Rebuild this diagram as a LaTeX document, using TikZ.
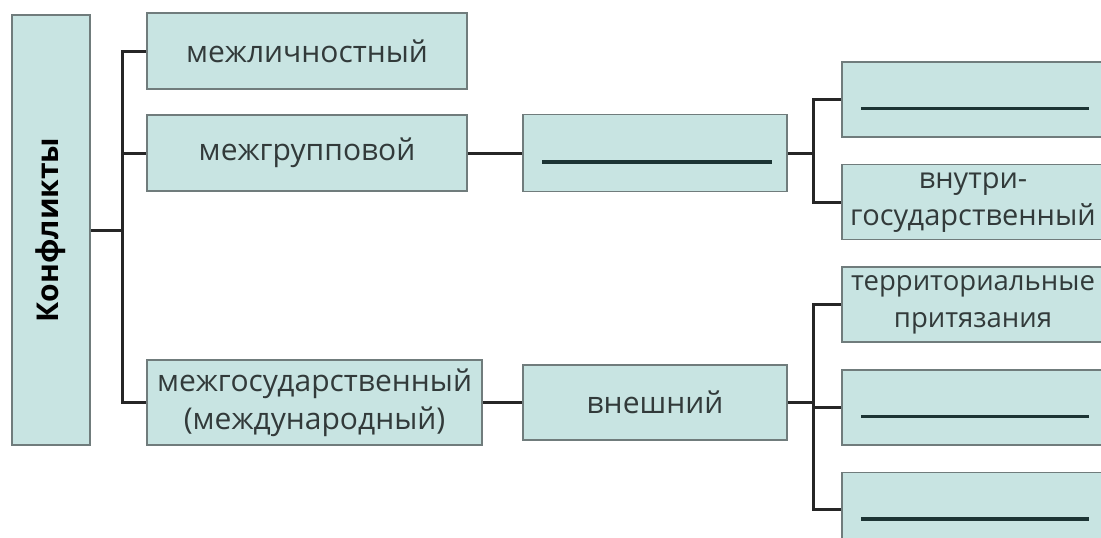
\documentclass[tikz,border=0pt]{standalone}
\usepackage{fontspec}
\setmainfont{Open Sans}
\usetikzlibrary{positioning}
\definecolor{boxfill}{RGB}{200,228,226}
\definecolor{boxline}{RGB}{112,124,124}
\definecolor{ink}{RGB}{50,58,58}
\definecolor{ansink}{RGB}{28,52,52}

\begin{document}
\begin{tikzpicture}[x=1pt,y=-1pt,
  box/.style={draw=boxline,line width=1.6pt,fill=boxfill,text=ink,align=center,inner sep=0pt,
    font=\fontsize{30}{38}\selectfont,minimum width=264pt,minimum height=75pt},
  answer/.style={box,path picture={\draw[ansink,line width=3.5pt]
    ([shift={(19,9)}]path picture bounding box.west) -- ([shift={(-15,9)}]path picture bounding box.east);}},
  link/.style={line width=3pt,draw=black!85}]
\useasboundingbox (0,0) rectangle (1101,538);
\clip (0,0) rectangle (1101,538);
\node[box,minimum width=78pt,minimum height=430pt] (konf) at (51,230) {\rotatebox{90}{\bfseries\color{black}Конфликты}};
\node[box,minimum width=320pt,minimum height=76pt] (lich) at (307,51) {межличностный};
\node[box,minimum width=320pt,minimum height=76pt] (grup) at (307,153) {межгрупповой};
\node[box,minimum width=335pt,minimum height=85pt] (gos) at (314.5,402.5) {межгосударственный\\(международный)};
\node[answer,minimum height=77pt] (b1) at (655,153) {};
\node[box] (vnesh) at (655,402.5) {внешний};
\node[answer,minimum width=262pt] (r1) at (973,99.5) {};
\node[box,minimum width=262pt,below=26pt of r1,font=\fontsize{29}{37}\selectfont] (r2) {внутри-\\государственный};
\node[box,minimum width=262pt,below=26pt of r2,font=\fontsize{27.5}{37}\selectfont] (r3) {территориальные\\притязания};
\node[answer,minimum width=262pt,below=26pt of r3] (r4) {};
\node[answer,minimum width=262pt,below=26pt of r4] (r5) {};
\coordinate (tl) at (122,0);
\coordinate (tr) at (813,0);
\draw[link] (konf.east) -- (konf.east -| tl);
\draw[link] (lich.west) -| (tl |- gos.west) -- (gos.west);
\draw[link] (grup.west) -- (grup.west -| tl);
\draw[link] (grup.east) -- (b1.west);
\draw[link] (gos.east) -- (vnesh.west);
\draw[link] (b1.east) -- (b1.east -| tr);
\draw[link] (r1.west) -| (tr |- r2.west) -- (r2.west);
\draw[link] (vnesh.east) -- (vnesh.east -| tr);
\draw[link] (r3.west) -| (tr |- r5.west) -- (r5.west);
\draw[link] (r4.west) -- (r4.west -| tr);
\end{tikzpicture}
\end{document}
